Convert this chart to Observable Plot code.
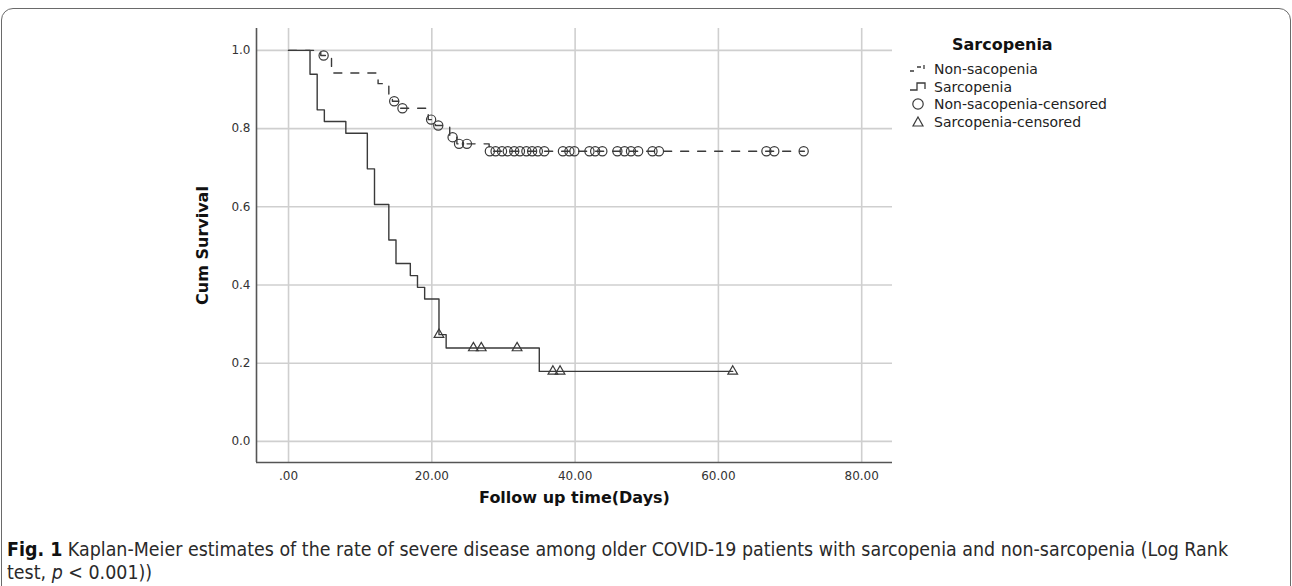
<!DOCTYPE html>
<html>
<head>
<meta charset="utf-8">
<script src="https://cdn.jsdelivr.net/npm/d3@7"></script>
<script src="https://cdn.jsdelivr.net/npm/@observablehq/plot@0.6"></script>
<style>
  html, body { margin: 0; padding: 0; background: #fff; }
  #page { position: relative; width: 1292px; height: 586px; overflow: hidden; font-family: "DejaVu Sans", sans-serif; }
  #border { position: absolute; left: 1px; top: 8px; right: 1px; bottom: -20px; border: 1.5px solid #6a6a6a; border-radius: 12px; }
  #chart { position: absolute; left: 0; top: 0; }
  #chart g[aria-label="y-axis label"] text, #chart g[aria-label="x-axis label"] text { font-weight: bold; font-size: 16px; fill: #111; }
  #legend { position: absolute; left: 0; top: 0; width: 1292px; height: 200px; pointer-events: none; }
  #legend .title { position: absolute; left: 952px; top: 35px; font-weight: bold; font-size: 16px; color: #111; }
  #legend .item { position: absolute; left: 908px; font-size: 14px; color: #222; white-space: nowrap; display: flex; align-items: center; }
  #legend .item svg { width: 22px; height: 16px; margin-right: 4px; overflow: visible; }
  .capline { position: absolute; left: 7px; white-space: nowrap; font-family: "DejaVu Sans", sans-serif; font-size: 20px; line-height: 23px; color: #2a2a2a; transform-origin: 0 50%; }
  .capline b { color: #111; }
</style>
</head>
<body>
<div id="page">
  <div id="border"></div>
  <div id="chart"></div>
  <div id="legend"></div>
  <div id="caption"></div>
</div>
<script>
// ---- Data ----
// Non-sarcopenia Kaplan-Meier step curve
const nonSarcTime = [0, 4.5, 6, 12.5, 14, 14.5, 15.5, 19.5, 20.5, 22.5, 23.5, 28, 72];
const nonSarcSurv = [1.0, 0.987, 0.942, 0.915, 0.885, 0.870, 0.852, 0.823, 0.808, 0.778, 0.761, 0.742, 0.742];
// Non-sarcopenia censored observations
const nonSarcCensTime = [4.9, 14.75, 15.9, 19.9, 20.9, 22.9, 23.8, 24.9, 28.1, 28.9, 29.8, 30.6, 31.5, 32.3, 33.2, 34.0, 34.8, 35.7, 38.3, 39.2, 39.9, 42.0, 42.8, 43.8, 45.9, 46.9, 47.8, 48.8, 50.8, 51.7, 66.7, 67.8, 71.9];
const nonSarcCensSurv = [0.987, 0.870, 0.852, 0.823, 0.808, 0.778, 0.761, 0.761, 0.742, 0.742, 0.742, 0.742, 0.742, 0.742, 0.742, 0.742, 0.742, 0.742, 0.742, 0.742, 0.742, 0.742, 0.742, 0.742, 0.742, 0.742, 0.742, 0.742, 0.742, 0.742, 0.742, 0.742, 0.742];
// Sarcopenia Kaplan-Meier step curve
const sarcTime = [0, 3, 4, 5, 8, 11, 12, 14, 15, 17, 18, 19, 21, 22, 35, 62];
const sarcSurv = [1.0, 0.939, 0.848, 0.818, 0.788, 0.697, 0.606, 0.515, 0.455, 0.424, 0.394, 0.364, 0.273, 0.239, 0.179, 0.179];
// Sarcopenia censored observations
const sarcCensTime = [21, 25.8, 26.9, 31.9, 36.9, 37.9, 62.0];
const sarcCensSurv = [0.273, 0.239, 0.239, 0.239, 0.179, 0.179, 0.179];
// Axis ticks and labels
const xTicks = [0, 20, 40, 60, 80];
const xTickLabels = [".00", "20.00", "40.00", "60.00", "80.00"];
const yTicks = [0, 0.2, 0.4, 0.6, 0.8, 1.0];
const yTickLabels = ["0.0", "0.2", "0.4", "0.6", "0.8", "1.0"];
const xLabel = "Follow up time(Days)";
const yLabel = "Cum Survival";
const legendTitle = "Sarcopenia";
const legendItems = ["Non-sacopenia", "Sarcopenia", "Non-sacopenia-censored", "Sarcopenia-censored"];
const captionLines = [
  ["<b>Fig. 1</b>", " Kaplan-Meier estimates of the rate of severe disease among older COVID-19 patients with sarcopenia and non-sarcopenia (Log Rank"],
  ["test, ", "<i>p</i>", " &lt; 0.001))"]
];

// ---- Build tables ----
const nonSarc = nonSarcTime.map((t, i) => ({t, s: nonSarcSurv[i]}));
const sarc = sarcTime.map((t, i) => ({t, s: sarcSurv[i]}));
const nonSarcCens = nonSarcCensTime.map((t, i) => ({t, s: nonSarcCensSurv[i]}));
const sarcCens = sarcCensTime.map((t, i) => ({t, s: sarcCensSurv[i]}));

const xDomain = [-4.47, 84.3];
const yDomain = [-0.054, 1.056];
const ink = "#3a3a3a";
const gridColor = "#cfcfcf";

const chart = Plot.plot({
  width: 1292,
  height: 520,
  marginTop: 28,
  marginBottom: 58,
  marginLeft: 256,
  marginRight: 400,
  style: {fontFamily: "DejaVu Sans", fontSize: "12px", color: "#333", background: "transparent", overflow: "visible"},
  x: {domain: xDomain},
  y: {domain: yDomain},
  marks: [
    Plot.gridX(xTicks, {stroke: gridColor, strokeOpacity: 1, strokeWidth: 1.6}),
    Plot.gridY(yTicks, {stroke: gridColor, strokeOpacity: 1, strokeWidth: 1.6}),
    Plot.axisX(xTicks, {tickSize: 0, tickPadding: 9, tickFormat: (d) => xTickLabels[xTicks.indexOf(d)],
      label: xLabel, labelAnchor: "center", labelArrow: "none", labelOffset: 40}),
    Plot.axisY(yTicks, {tickSize: 0, tickPadding: 6, tickFormat: (d) => yTickLabels[yTicks.indexOf(d)],
      label: yLabel, labelAnchor: "center", labelArrow: "none", labelOffset: 60}),
    Plot.ruleX([xDomain[0]], {stroke: "#555", strokeWidth: 1.6}),
    Plot.ruleY([yDomain[0]], {stroke: "#555", strokeWidth: 1.6}),
    Plot.line(nonSarc, {x: "t", y: "s", curve: "step-after", stroke: ink, strokeWidth: 1.4, strokeDasharray: "8,9"}),
    Plot.line(sarc, {x: "t", y: "s", curve: "step-after", stroke: ink, strokeWidth: 1.4}),
    Plot.dot(nonSarcCens, {x: "t", y: "s", symbol: "circle", r: 4.6, stroke: ink, strokeWidth: 1.2, fill: "none"}),
    Plot.dot(sarcCens, {x: "t", y: "s", symbol: "triangle", r: 3.6, stroke: ink, strokeWidth: 1.2, fill: "none"})
  ]
});
document.getElementById("chart").appendChild(chart);

// ---- Legend (HTML with small inline symbols) ----
const legend = document.getElementById("legend");
const t = document.createElement("div");
t.className = "title";
t.textContent = legendTitle;
legend.appendChild(t);
const symbols = [
  `<svg viewBox="0 0 22 16"><path d="M2,10 H6 M9,6 H13 M16,4 V8" stroke="${ink}" stroke-width="1.3" fill="none"/></svg>`,
  `<svg viewBox="0 0 22 16"><path d="M2,11 H9 V4 H17 V10" stroke="${ink}" stroke-width="1.3" fill="none"/></svg>`,
  `<svg viewBox="0 0 22 16"><circle cx="10" cy="8" r="5.2" stroke="${ink}" stroke-width="1.2" fill="none"/></svg>`,
  `<svg viewBox="0 0 22 16"><path d="M10,3 L15,12 L5,12 Z" stroke="${ink}" stroke-width="1.2" fill="none"/></svg>`
];
const itemTops = [61, 79, 96, 114];
legendItems.forEach((name, i) => {
  const d = document.createElement("div");
  d.className = "item";
  d.style.top = itemTops[i] + "px";
  d.innerHTML = symbols[i] + `<span>${name}</span>`;
  legend.appendChild(d);
});

// ---- Caption: two lines, narrowed to the reference's line length ----
const cap = document.getElementById("caption");
const lineTops = [538, 561];
const lineEls = captionLines.map((parts, i) => {
  const d = document.createElement("div");
  d.className = "capline";
  d.style.top = lineTops[i] + "px";
  d.innerHTML = parts.map(p => `<span>${p}</span>`).join("");
  cap.appendChild(d);
  return d;
});
const targetWidth = 1221;
const w0 = lineEls[0].getBoundingClientRect().width;
const k = targetWidth / w0;
lineEls.forEach(el => { el.style.transform = `scaleX(${k})`; });
</script>
</body>
</html>
